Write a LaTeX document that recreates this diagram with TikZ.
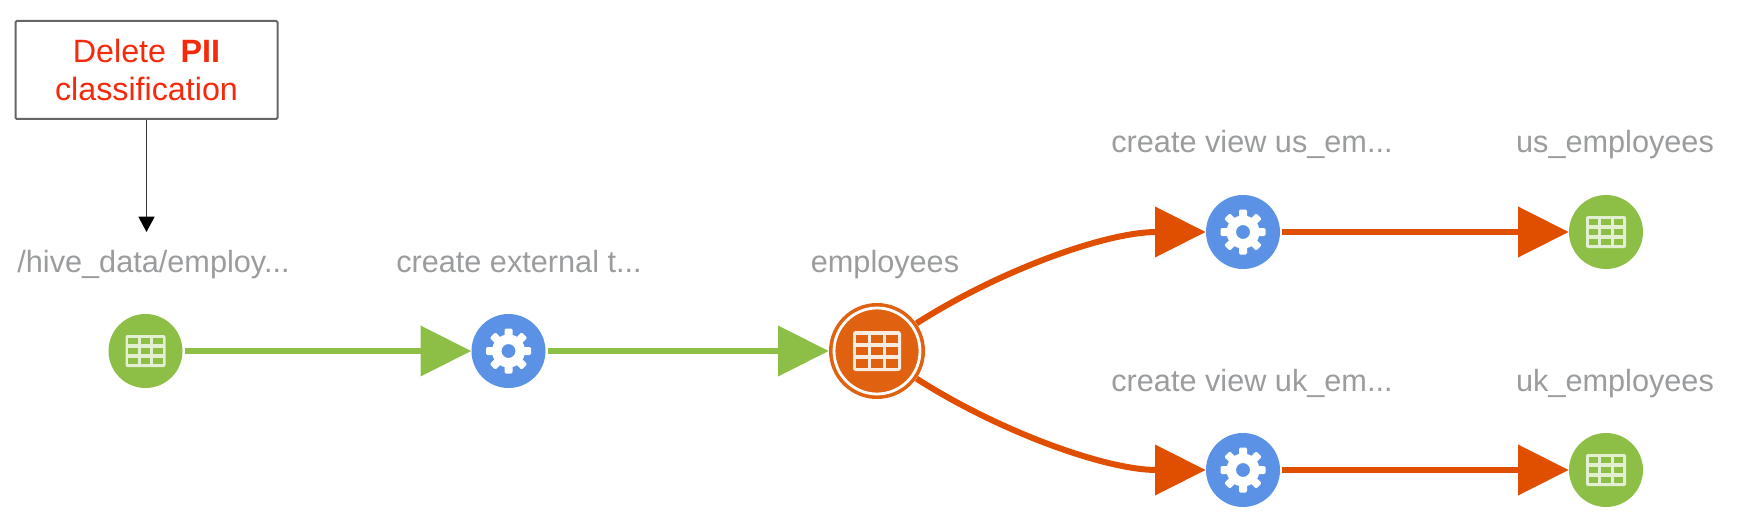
\documentclass[tikz,border=0pt]{standalone}
\usepackage{fontspec}
\setmainfont{Liberation Sans}
\usetikzlibrary{arrows.meta}
\definecolor{gr}{HTML}{8DBE45}
\definecolor{og}{HTML}{E04E00}
\definecolor{ogn}{HTML}{E0610F}
\definecolor{bl}{HTML}{5C92E6}
\definecolor{lb}{HTML}{9A9C9E}
\definecolor{rd}{HTML}{F52A0C}
\tikzset{
 lbl/.style={text=lb,font=\fontsize{23}{26}\selectfont,anchor=base,inner sep=0},
 greennode/.style={circle,fill=gr,minimum size=55.5pt,inner sep=0},
 bluenode/.style={circle,fill=bl,minimum size=55.5pt,inner sep=0},
 focusnode/.style={circle,fill=ogn,minimum size=72pt,inner sep=0},
 glink/.style={draw=gr,line width=4.5pt,-{Triangle[length=38pt,width=37pt]}},
 olink/.style={draw=og,line width=4.5pt,-{Triangle[length=38pt,width=37pt]}},
 notebox/.style={draw=black!60,line width=1.5pt,rounded corners=1pt,fill=white,minimum width=196.5pt,minimum height=73.5pt,inner sep=0,align=center,text=rd,font=\fontsize{24.2}{28.5}\selectfont},
 notelink/.style={draw=black!80,line width=1.1pt,-{Triangle[length=11.5pt,width=12pt,color=black]}}
}
\begin{document}
\begin{tikzpicture}[x=0.75pt,y=-0.75pt]
\useasboundingbox (0,0) rectangle (1738,531);
\fill[white] (0,0) rectangle (1738,531);

\node[notebox] (box) at (146.5,70) {Delete\hspace{0.45em}\textbf{PII}\\classification};
\coordinate (tip) at (146.5,232);

\node[lbl] (l1) at (153.5,272) {/hive\_data/employ...};
\node[lbl] (l2) at (519,272) {create external t...};
\node[lbl] (l3) at (885,272) {employees};
\node[lbl] (l4) at (1252,153) {create view us\_em...};
\node[lbl] (l5) at (1615,153) {us\_employees};
\node[lbl] (l6) at (1252,391) {create view uk\_em...};
\node[lbl] (l7) at (1615,391) {uk\_employees};

\node[greennode] (n1) at (145.5,351) {};
\node[bluenode] (n2) at (508.5,351) {};
\node[focusnode] (n3) at (877,351) {};
\node[bluenode] (n4) at (1243,232) {};
\node[greennode] (n5) at (1606,232) {};
\node[bluenode] (n6) at (1243,470) {};
\node[greennode] (n7) at (1606,470) {};
\draw[white,line width=2.1pt] (n3.center) circle (43);

\foreach \n in {n1,n5,n7}{
 \begin{scope}[shift={(\n)}]
 \fill[white!75!gr,rounded corners=1.5pt] (-20,-16) rectangle (20,16);
 \foreach \cx in {-12.5,0,12.5} \foreach \cy in {-9.8,0,9.8}
   \fill[gr] (\cx-4.6,\cy-3.2) rectangle (\cx+4.6,\cy+3.2);
 \end{scope}}
\begin{scope}[shift={(n3)}]
 \fill[white!88!ogn,rounded corners=2pt] (-24,-20) rectangle (24,20);
 \foreach \cx in {-15,0,15} \foreach \cy in {-12.3,0,12.3}
   \fill[ogn] (\cx-5.6,\cy-4.2) rectangle (\cx+5.6,\cy+4.2);
\end{scope}
\foreach \n in {n2,n4,n6}{
 \begin{scope}[shift={(\n)}]
 \foreach \a in {0,45,...,315}
   \fill[white,rotate=\a,rounded corners=1pt] (-4,11) rectangle (4,22.5);
 \fill[white,even odd rule] (0,0) circle (16.5) (0,0) circle (7);
 \end{scope}}

\draw[notelink] (box.south) -- (tip);
\draw[glink] ([xshift=1.5pt]n1.east) -- (n2.west);
\draw[glink] ([xshift=1.5pt]n2.east) -- (n3.west);
\draw[olink] (n3.35) .. controls +(83,-53) and +(-100,0) .. (n4.west);
\draw[olink] (n3.-35) .. controls +(83,53) and +(-100,0) .. (n6.west);
\draw[olink] ([xshift=1.5pt]n4.east) -- (n5.west);
\draw[olink] ([xshift=1.5pt]n6.east) -- (n7.west);
\end{tikzpicture}
\end{document}
